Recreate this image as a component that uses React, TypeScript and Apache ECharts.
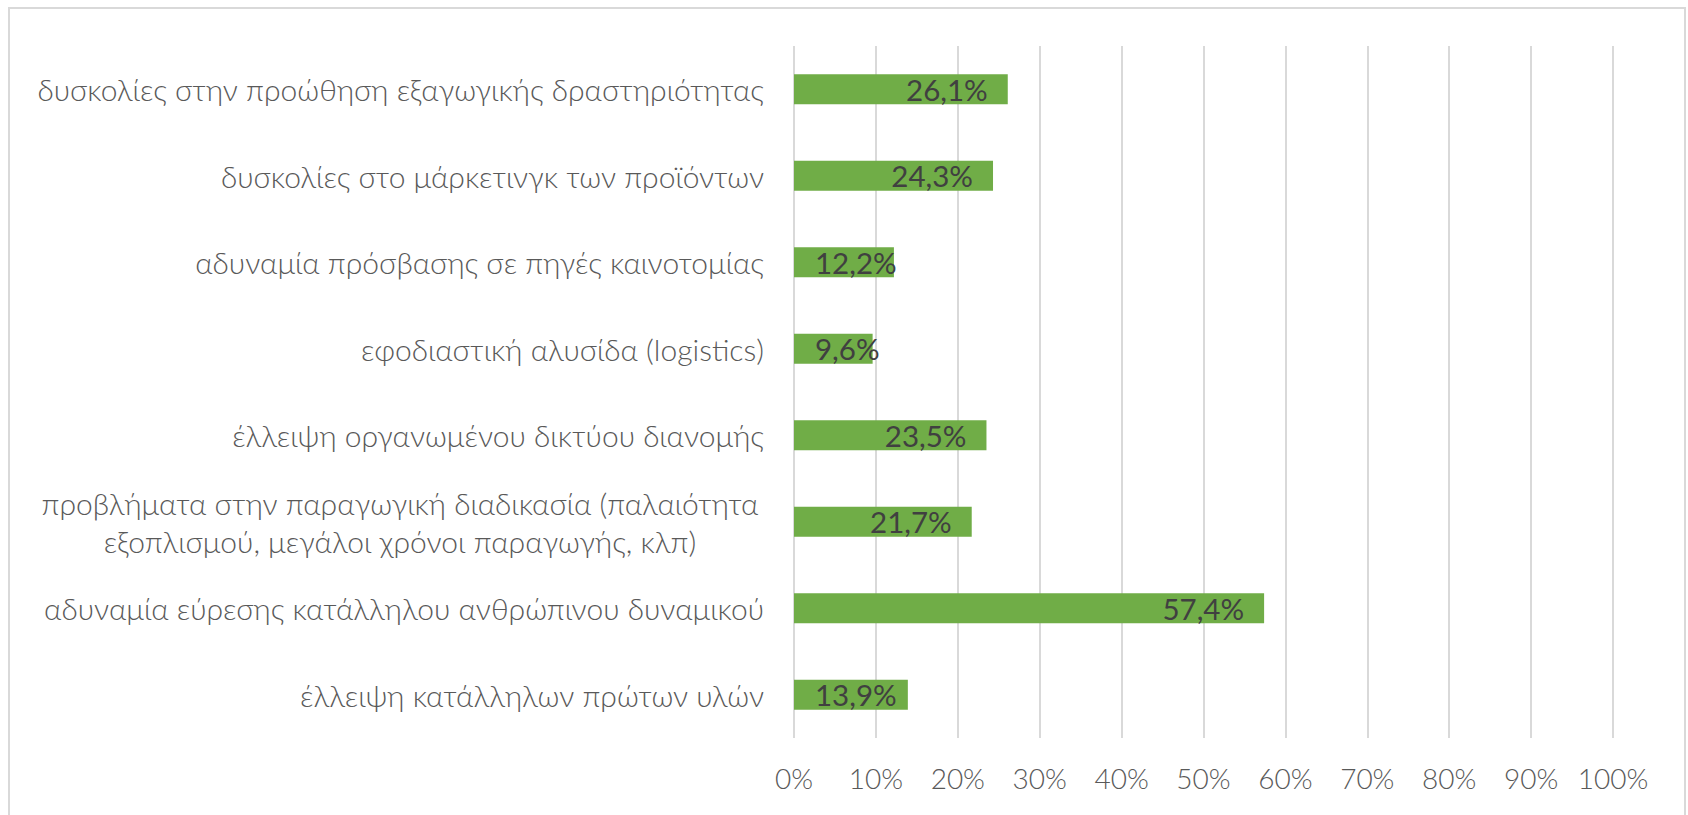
import React, { useEffect, useRef } from 'react';
import * as echarts from 'echarts';

const categories: string[] = [
  'δυσκολίες στην προώθηση εξαγωγικής δραστηριότητας',
  'δυσκολίες στο μάρκετινγκ των προϊόντων',
  'αδυναμία πρόσβασης σε πηγές καινοτομίας',
  'εφοδιαστική αλυσίδα (logistics)',
  'έλλειψη οργανωμένου δικτύου διανομής',
  'προβλήματα στην παραγωγική διαδικασία (παλαιότητα\nεξοπλισμού, μεγάλοι χρόνοι παραγωγής, κλπ)',
  'αδυναμία εύρεσης κατάλληλου ανθρώπινου δυναμικού',
  'έλλειψη κατάλληλων πρώτων υλών',
];

const values: number[] = [26.1, 24.3, 12.2, 9.6, 23.5, 21.7, 57.4, 13.9];

const tickLabels: string[] = ['0%', '10%', '20%', '30%', '40%', '50%', '60%', '70%', '80%', '90%', '100%'];

const FONT = "Lato, 'Noto Sans', 'DejaVu Sans', sans-serif";

export default function App() {
  const ref = useRef<HTMLDivElement>(null);

  useEffect(() => {
    if (!ref.current) return;
    const chart = echarts.init(ref.current, undefined, { renderer: 'svg' });

    const option: any = {
      animation: false,
      backgroundColor: '#ffffff',
      textStyle: { fontFamily: FONT },
      graphic: [
        {
          type: 'rect',
          silent: true,
          z: -10,
          shape: { x: 9, y: 8, width: 1676, height: 900 },
          style: { fill: 'none', stroke: '#d9d9d9', lineWidth: 2 },
        },
      ],
      grid: {
        left: 794,
        right: 75,
        top: 46,
        bottom: 77,
        containLabel: false,
        outerBoundsMode: 'none',
      },
      xAxis: {
        type: 'value',
        min: 0,
        max: 100,
        interval: 10,
        axisLine: { show: false },
        axisTick: { show: false },
        splitLine: { show: true, lineStyle: { color: '#d9d9d9', width: 2 } },
        axisLabel: {
          formatter: (v: number) => tickLabels[Math.round(v / 10)] ?? `${v}%`,
          fontFamily: FONT,
          fontWeight: 300,
          fontSize: 28,
          lineHeight: 28,
          color: '#595959',
          margin: 26,
        },
      },
      yAxis: {
        type: 'category',
        inverse: true,
        data: categories,
        axisLine: { show: false },
        axisTick: { show: false },
        splitLine: { show: false },
        axisLabel: {
          fontFamily: FONT,
          fontWeight: 300,
          fontSize: 30,
          lineHeight: 38,
          color: '#595959',
          margin: 30,
          formatter: (v: string) =>
            v.includes('\n')
              ? v
                  .split('\n')
                  .map((s) => `{c|${s}}`)
                  .join('\n')
              : v,
          rich: {
            c: {
              width: 728,
              align: 'center',
              fontFamily: FONT,
              fontWeight: 300,
              fontSize: 30,
              lineHeight: 38,
              color: '#595959',
            },
          },
        },
      },
      series: [
        {
          type: 'bar',
          barWidth: 30,
          itemStyle: { color: '#70ad47' },
          label: {
            show: true,
            position: 'insideRight',
            distance: 20,
            fontFamily: FONT,
            fontSize: 29.5,
            color: '#404040',
            formatter: (p: any) => `${Number(p.value).toFixed(1).replace('.', ',')}%`,
          },
          data: values.map((v) =>
            v < 15
              ? { value: v, label: { position: 'insideLeft', distance: 21 } }
              : { value: v }
          ),
        },
      ],
    };

    chart.setOption(option);
    return () => chart.dispose();
  }, []);

  return (
    <div
      ref={ref}
      style={{ position: 'absolute', left: 0, top: 0, width: 1688, height: 815 }}
    />
  );
}
